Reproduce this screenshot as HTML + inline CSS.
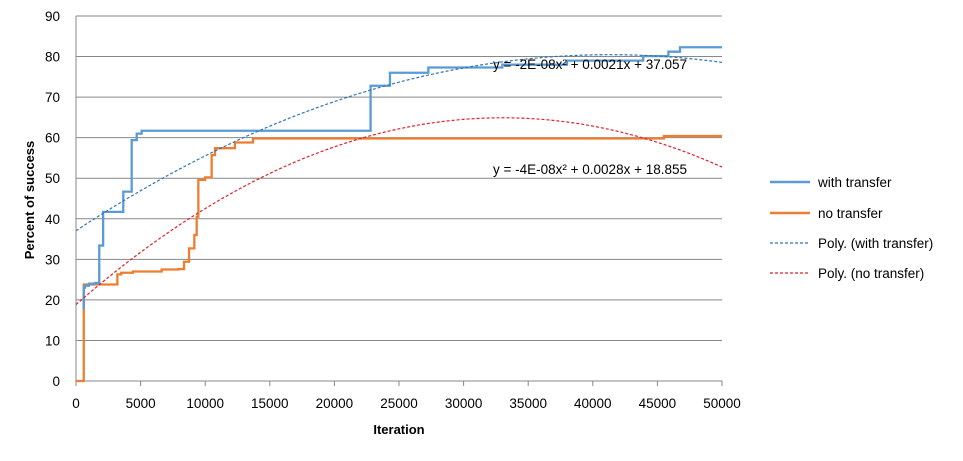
<!DOCTYPE html>
<html><head><meta charset="utf-8"><style>
body{margin:0;background:#fff;width:963px;height:456px;overflow:hidden;font-family:"Liberation Sans",Arial,sans-serif}
svg text{font-family:"Liberation Sans",Arial,sans-serif}
</style></head><body>
<svg id="chart" width="963" height="456" xmlns="http://www.w3.org/2000/svg">
<g id="grid"></g>
<g id="axes"></g>
<g id="series"></g>
<text x="493" y="69" font-size="13.5" fill="#000">y = -2E-08x² + 0.0021x + 37.057</text>
<text x="493" y="174" font-size="13.5" fill="#000">y = -4E-08x² + 0.0028x + 18.855</text>
<text transform="translate(34,200) rotate(-90)" text-anchor="middle" font-size="13" font-weight="bold">Percent of success</text>
<text x="399" y="434" text-anchor="middle" font-size="13" font-weight="bold">Iteration</text>
<g>
<g><line x1="770" y1="182" x2="810" y2="182" stroke="#5b9bd5" stroke-width="2.5"/><text x="818" y="187" font-size="13.5">with transfer</text></g>
<g><line x1="770" y1="213" x2="810" y2="213" stroke="#ed7d31" stroke-width="2.5"/><text x="818" y="218" font-size="13.5">no transfer</text></g>
<g><line x1="770" y1="243" x2="810" y2="243" stroke="#2e75b6" stroke-width="1.2" stroke-dasharray="3,2"/><text x="818" y="248" font-size="13.5">Poly. (with transfer)</text></g>
<g><line x1="770" y1="273" x2="810" y2="273" stroke="#e0202a" stroke-width="1.2" stroke-dasharray="3,2"/><text x="818" y="278" font-size="13.5">Poly. (no transfer)</text></g>
</g>
</svg>
<script>
const xTicks=[0,5000,10000,15000,20000,25000,30000,35000,40000,45000,50000];
const yTicks=[0,10,20,30,40,50,60,70,80,90];
const withIter=[500,600,700,1000,1500,1800,2100,3660,4310,4700,5080,22700,22800,24300,27270,33000,38000,43900,45850,46750,50000];
const withVal=[18,23,23.5,24,24.2,33.4,41.7,46.7,59.4,61,61.7,61.7,72.8,76,77.3,78,79,80.1,81.2,82.3,82.3];
const noIter=[0,600,3200,3500,4400,6630,7930,8360,8750,9160,9340,9470,10000,10500,10760,12300,13700,45500,50000];
const noVal=[0,23.8,26.3,26.7,27,27.5,27.6,29.4,32.7,36,40.5,49.6,50.2,55.7,57.4,58.8,59.8,60.4,60.4];
const polyWith=[-2.54e-8,0.0021,37.057];
const polyNo=[-4.22e-8,0.002788,18.855];
const X=v=>76+v*(646/50000), Y=v=>381-v*(365/90);
const NS="http://www.w3.org/2000/svg";
function mk(tag,attrs,parent){const e=document.createElementNS(NS,tag);for(const k in attrs)e.setAttribute(k,attrs[k]);parent.appendChild(e);return e;}
const grid=document.getElementById('grid'),axes=document.getElementById('axes'),series=document.getElementById('series');
yTicks.forEach(t=>{
 const l=mk('line',{x1:76,x2:722,y1:Y(t),y2:Y(t),stroke:'#878787','stroke-width':1},grid);
 
 
 const tx=mk('text',{x:60,y:Y(t)+5,'text-anchor':'end','font-size':13.5},axes);
 tx.textContent=t;
 
 
});
mk('line',{x1:76,x2:76,y1:Y(90),y2:381,stroke:'#878787'},axes);
xTicks.forEach(t=>{
 const l=mk('line',{x1:X(t),x2:X(t),y1:381,y2:386,stroke:'#878787'},axes);
 
 
 const tx=mk('text',{x:X(t),y:408,'text-anchor':'middle','font-size':13.5},axes);
 tx.textContent=t;
 
 
});
function poly(c,col,name){
 let pts=[];for(let i=0;i<=100;i++){const x=i*500;pts.push(X(x)+','+Y(c[0]*x*x+c[1]*x+c[2]));}
 const p=mk('polyline',{points:pts.join(' '),fill:'none',stroke:col,'stroke-width':1.2,'stroke-dasharray':'3,2'},series);
 
 
}
function step(xs,vs,col,name){
 let pts=[X(xs[0])+','+Y(vs[0])];
 for(let i=1;i<xs.length;i++){pts.push(X(xs[i])+','+Y(vs[i-1]));pts.push(X(xs[i])+','+Y(vs[i]));}
 const p=mk('polyline',{points:pts.join(' '),fill:'none',stroke:col,'stroke-width':2.3},series);
 
 
}
step(noIter,noVal,'#ed7d31','line-no-transfer');
step(withIter,withVal,'#5b9bd5','line-with-transfer');
poly(polyWith,'#2e75b6','trendline-with-transfer');
poly(polyNo,'#e0202a','trendline-no-transfer');
</script>
</body></html>
